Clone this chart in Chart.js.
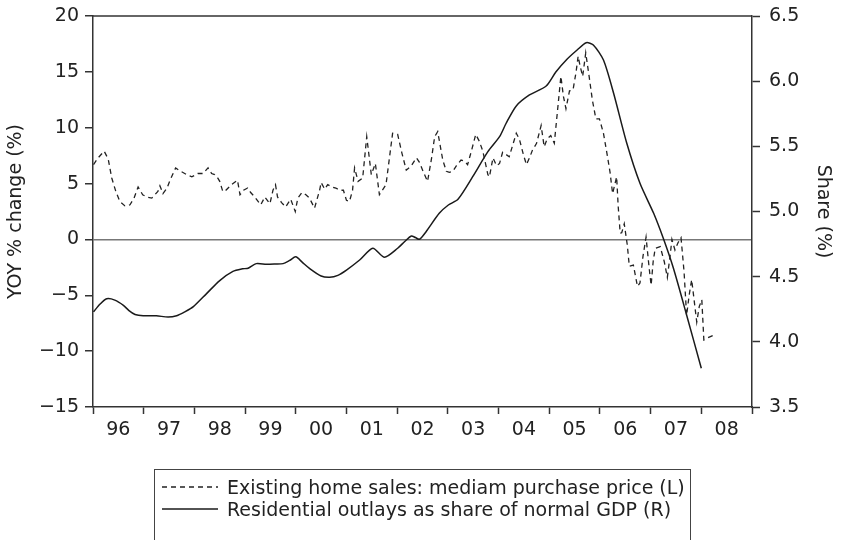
<!DOCTYPE html>
<html>
<head>
<meta charset="utf-8">
<script src="https://cdn.jsdelivr.net/npm/chart.js@4.4.0/dist/chart.umd.min.js"></script>
<style>
  html, body { margin: 0; padding: 0; background: #fff; overflow: hidden; }
  #wrap { position: relative; width: 841px; height: 540px; }
  #legend {
    position: absolute; left: 154px; top: 469px; width: 537px; height: 90px;
    border: 1.5px solid #444; border-bottom: none; box-sizing: border-box;
    padding: 6px 0 0 7px;
    font: 19px "DejaVu Sans", sans-serif; color: #222;
  }
  .row { height: 22px; display: flex; align-items: center; white-space: nowrap; }
  .row svg { margin-right: 9px; flex: none; }
</style>
</head>
<body>
<div id="wrap">
  <canvas id="housing" width="841" height="540"></canvas>
  <div id="legend"></div>
</div>
<script>
// Existing home sales, median purchase price, YOY % change (left axis)
const priceYears = [
  1996.01, 1996.10, 1996.22, 1996.30, 1996.37, 1996.45, 1996.53, 1996.63, 1996.73, 1996.81,
  1996.89, 1996.98, 1997.06, 1997.16, 1997.22, 1997.28, 1997.32, 1997.38, 1997.46, 1997.52,
  1997.63, 1997.73, 1997.85, 1997.95, 1998.07, 1998.17, 1998.27, 1998.34, 1998.40, 1998.46,
  1998.50, 1998.56, 1998.60, 1998.73, 1998.85, 1998.90, 1998.97, 1999.05, 1999.11, 1999.19,
  1999.31, 1999.39, 1999.49, 1999.55, 1999.60, 1999.64, 1999.72, 1999.80, 1999.90, 1999.99,
  2000.04, 2000.12, 2000.20, 2000.27, 2000.37, 2000.47, 2000.50, 2000.57, 2000.63, 2000.71,
  2000.79, 2000.87, 2000.94, 2001.00, 2001.06, 2001.12, 2001.16, 2001.23, 2001.32, 2001.40,
  2001.49, 2001.57, 2001.65, 2001.78, 2001.91, 2002.01, 2002.09, 2002.18, 2002.28, 2002.38,
  2002.44, 2002.52, 2002.60, 2002.68, 2002.74, 2002.80, 2002.90, 2002.97, 2003.03, 2003.10,
  2003.17, 2003.26, 2003.33, 2003.39, 2003.47, 2003.55, 2003.62, 2003.69, 2003.79, 2003.82,
  2003.89, 2003.96, 2004.02, 2004.08, 2004.15, 2004.21, 2004.27, 2004.35, 2004.41, 2004.49,
  2004.55, 2004.61, 2004.67, 2004.75, 2004.84, 2004.90, 2004.96, 2005.03, 2005.10, 2005.23,
  2005.28, 2005.33, 2005.40, 2005.47, 2005.53, 2005.57, 2005.61, 2005.66, 2005.72, 2005.79,
  2005.85, 2005.92, 2005.99, 2006.07, 2006.15, 2006.20, 2006.25, 2006.33, 2006.36, 2006.40,
  2006.43, 2006.48, 2006.54, 2006.58, 2006.66, 2006.74, 2006.79, 2006.85, 2006.91, 2006.97,
  2007.01, 2007.05, 2007.09, 2007.19, 2007.27, 2007.33, 2007.39, 2007.42, 2007.48, 2007.54,
  2007.60, 2007.66, 2007.71, 2007.76, 2007.81, 2007.86, 2007.91, 2007.96, 2008.01, 2008.05,
  2008.13, 2008.23
];
const priceYoY = [
  6.7, 7.3, 7.9, 7.2, 5.5, 4.3, 3.4, 3.0, 3.1, 3.7,
  4.7, 4.0, 3.8, 3.7, 4.0, 4.3, 4.8, 4.1, 4.6, 5.3,
  6.4, 6.1, 5.8, 5.6, 5.9, 5.9, 6.4, 5.9, 5.8, 5.5,
  5.2, 4.3, 4.3, 4.9, 5.3, 4.0, 4.4, 4.6, 4.2, 3.8,
  3.1, 3.8, 3.2, 4.4, 4.9, 3.8, 3.3, 2.9, 3.6, 2.5,
  3.7, 4.2, 4.0, 3.7, 2.8, 4.4, 5.1, 4.5, 4.9, 4.7,
  4.6, 4.4, 4.4, 3.5, 3.4, 4.4, 6.4, 5.2, 5.5, 9.2,
  5.8, 6.8, 4.0, 4.9, 9.5, 9.4, 7.8, 6.2, 6.6, 7.3,
  6.9, 6.0, 5.2, 7.3, 9.2, 9.65, 7.1, 6.1, 6.0, 6.1,
  6.6, 7.1, 7.0, 6.7, 8.0, 9.4, 8.8, 7.9, 5.8, 5.6,
  7.3, 6.6, 6.8, 7.8, 7.6, 7.4, 8.3, 9.5, 9.0, 7.6,
  6.7, 7.3, 8.0, 8.6, 10.2, 8.3, 9.0, 9.3, 8.6, 14.6,
  12.8, 11.7, 13.3, 13.4, 15.0, 16.4, 15.5, 14.6, 16.7, 14.5,
  12.5, 10.8, 10.8, 9.5, 7.4, 6.0, 4.1, 5.6, 3.0, 0.55,
  0.6, 1.4, -0.5, -2.4, -2.3, -4.2, -3.9, -1.5, 0.2, -2.5,
  -4.1, -2.0, -0.8, -0.65, -2.0, -3.4, -1.25, 0.0, -0.95, -0.3,
  0.15, -2.9, -6.8, -5.0, -3.6, -5.5, -7.4, -6.0, -5.4, -9.0,
  -8.8, -8.6
];

// Residential outlays as share of GDP, % (right axis)
const shareYears = [
  1996.01, 1996.14, 1996.27, 1996.43, 1996.60, 1996.71, 1996.83, 1996.99, 1997.25, 1997.48,
  1997.65, 1997.81, 1997.98, 1998.24, 1998.50, 1998.76, 1998.95, 1999.06, 1999.22, 1999.42,
  1999.60, 1999.75, 1999.88, 2000.00, 2000.13, 2000.27, 2000.50, 2000.67, 2000.83, 2001.00,
  2001.26, 2001.52, 2001.75, 2002.01, 2002.15, 2002.28, 2002.36, 2002.44, 2002.57, 2002.83,
  2003.01, 2003.20, 2003.49, 2003.79, 2004.02, 2004.15, 2004.35, 2004.61, 2004.94, 2005.13,
  2005.35, 2005.55, 2005.73, 2005.87, 2006.07, 2006.27, 2006.53, 2006.79, 2007.06, 2007.25,
  2007.45, 2007.71, 2008.00
];
const shareGdp = [
  4.23, 4.29, 4.33, 4.32, 4.28, 4.24, 4.21, 4.20, 4.20, 4.19,
  4.20, 4.23, 4.27, 4.37, 4.47, 4.54, 4.56, 4.565, 4.60, 4.595,
  4.597, 4.60, 4.625, 4.652, 4.61, 4.564, 4.505, 4.495, 4.51, 4.551,
  4.628, 4.718, 4.649, 4.718, 4.77, 4.812, 4.80, 4.787, 4.845, 4.986,
  5.05, 5.094, 5.267, 5.459, 5.574, 5.677, 5.81, 5.894, 5.963, 6.07,
  6.168, 6.239, 6.295, 6.278, 6.162, 5.907, 5.523, 5.216, 4.986, 4.794,
  4.564, 4.206, 3.797
];

// Year boundaries and the labels centred between them
const yearStarts = [1996, 1997, 1998, 1999, 2000, 2001, 2002, 2003, 2004, 2005, 2006, 2007, 2008, 2009];
const yearLabels = ['96', '97', '98', '99', '00', '01', '02', '03', '04', '05', '06', '07', '08'];

const seriesNames = [
  'Existing home sales: mediam purchase price (L)',
  'Residential outlays as share of normal GDP (R)'
];

const FONT = '"DejaVu Sans", sans-serif';
const INK = '#222';
const AXIS = '#333';

// tick list: year boundaries (marks only) interleaved with mid-year label slots
const xTicks = [];
yearStarts.forEach((y, i) => {
  xTicks.push({ value: y });
  if (i < yearLabels.length) xTicks.push({ value: y + 0.5 });
});

// vertical axes: fixed width, no extra room reserved for half-labels
function fixWidth(w) {
  return scale => {
    scale.width = w;
    scale.paddingTop = 0;
    scale.paddingBottom = 0;
  };
}

// draws the top edge of the plot frame
const frameTop = {
  id: 'frameTop',
  afterDatasetsDraw(chart) {
    const { ctx, chartArea } = chart;
    ctx.save();
    ctx.strokeStyle = AXIS;
    ctx.lineWidth = 1.5;
    ctx.beginPath();
    ctx.moveTo(chartArea.left, chartArea.top);
    ctx.lineTo(chartArea.right, chartArea.top);
    ctx.stroke();
    ctx.restore();
  }
};

const ctx = document.getElementById('housing').getContext('2d');
new Chart(ctx, {
  type: 'line',
  data: {
    datasets: [{
      label: seriesNames[0],
      data: priceYears.map((x, i) => ({ x: x, y: priceYoY[i] })),
      yAxisID: 'y',
      borderColor: INK,
      borderWidth: 1.3,
      borderDash: [5, 4],
      pointRadius: 0,
      tension: 0,
      fill: false
    }, {
      label: seriesNames[1],
      data: shareYears.map((x, i) => ({ x: x, y: shareGdp[i] })),
      yAxisID: 'y1',
      borderColor: '#1a1a1a',
      borderWidth: 1.5,
      pointRadius: 0,
      tension: 0.25,
      fill: false
    }]
  },
  options: {
    responsive: false,
    animation: false,
    devicePixelRatio: 1,
    layout: { padding: { top: 16, left: 0, right: 0, bottom: 0 } },
    plugins: { legend: { display: false }, tooltip: { enabled: false } },
    scales: {
      x: {
        type: 'linear',
        min: 1996,
        max: 2009,
        afterBuildTicks: scale => { scale.ticks = xTicks.map(t => ({ value: t.value })); },
        afterFit: scale => { scale.height = 133; },
        border: { display: true, color: AXIS, width: 1.5 },
        grid: {
          drawOnChartArea: false,
          drawTicks: true,
          tickLength: 7,
          tickWidth: 1.5,
          tickColor: c => (c.tick && Number.isInteger(c.tick.value)) ? AXIS : 'rgba(0,0,0,0)'
        },
        ticks: {
          autoSkip: false,
          maxRotation: 0,
          minRotation: 0,
          padding: 5,
          color: INK,
          font: { family: FONT, size: 19 },
          callback: (v, i) => (i % 2 === 1) ? yearLabels[(i - 1) / 2] : ''
        }
      },
      y: {
        position: 'left',
        min: -15,
        max: 20,
        afterFit: fixWidth(93),
        border: { display: true, color: AXIS, width: 1.5 },
        grid: {
          drawOnChartArea: true,
          color: c => (c.tick && c.tick.value === 0) ? '#777' : 'rgba(0,0,0,0)',
          lineWidth: 1.5,
          tickLength: 8,
          tickWidth: 1.5,
          tickColor: AXIS
        },
        ticks: {
          stepSize: 5,
          padding: 6,
          color: INK,
          font: { family: FONT, size: 19 },
          callback: v => v < 0 ? '\u2212' + Math.abs(v) : String(v)
        },
        title: {
          display: true,
          text: 'YOY % change (%)',
          color: INK,
          font: { family: FONT, size: 19 },
          padding: { top: 5, bottom: 0 }
        }
      },
      y1: {
        position: 'right',
        min: 3.5,
        max: 6.5,
        afterFit: fixWidth(89),
        border: { display: true, color: AXIS, width: 1.5 },
        grid: {
          drawOnChartArea: false,
          tickLength: 8,
          tickWidth: 1.5,
          tickColor: AXIS
        },
        ticks: {
          stepSize: 0.5,
          padding: 9,
          color: INK,
          font: { family: FONT, size: 19 },
          callback: v => v.toFixed(1)
        },
        title: {
          display: true,
          text: 'Share (%)',
          color: INK,
          font: { family: FONT, size: 19 },
          padding: { top: 7, bottom: 0 }
        }
      }
    }
  },
  plugins: [frameTop]
});

// legend box under the chart: dashed and solid samples with series names
const legend = document.getElementById('legend');
const samples = [
  '<line x1="0" y1="2" x2="56" y2="2" stroke="#222" stroke-width="1.3" stroke-dasharray="5 4"/>',
  '<line x1="0" y1="2" x2="56" y2="2" stroke="#1a1a1a" stroke-width="1.5"/>'
];
seriesNames.forEach((name, i) => {
  const row = document.createElement('div');
  row.className = 'row';
  row.innerHTML = '<svg width="56" height="4">' + samples[i] + '</svg><span></span>';
  row.querySelector('span').textContent = name;
  legend.appendChild(row);
});
</script>
</body>
</html>
